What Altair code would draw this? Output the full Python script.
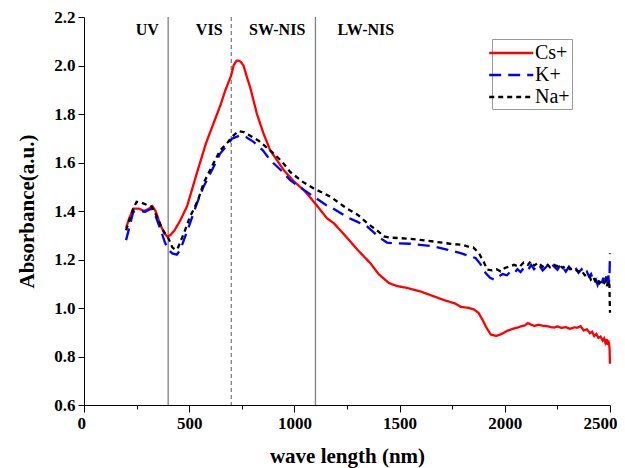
import altair as alt
import pandas as pd

# ---- data ----
series_names = ["Cs+", "K+", "Na+"]
series_colors = ["#ff0000", "#0000ff", "#000000"]
series_dashes = [[1, 0], [12, 7], [5, 4]]

nm_cs = [200,215,235,260,285,310,325,340,360,380,395,410,430,457,490,536,580,615,650,671,700,711,725,734,745,758,775,790,822,853,885,950,1000,1045,1100,1155,1187,1250,1300,1361,1400,1449,1490,1536,1600,1663,1720,1760,1790,1830,1853,1875,1893,1912,1933,1960,1980,2010,2040,2060,2080,2095,2110,2123,2140,2160,2180,2200,2220,2234,2250,2270,2290,2310,2330,2346,2360,2375,2390,2405,2415,2425,2435,2445,2455,2465,2472,2478,2484,2488,2492,2496,2498,2500]
val_cs = [1.33,1.37,1.41,1.41,1.40,1.41,1.42,1.40,1.35,1.31,1.295,1.30,1.32,1.36,1.42,1.555,1.68,1.76,1.84,1.896,1.96,2.00,2.02,2.02,2.015,2.00,1.95,1.91,1.80,1.72,1.65,1.568,1.52,1.486,1.43,1.37,1.35,1.29,1.24,1.185,1.14,1.103,1.09,1.083,1.068,1.048,1.03,1.02,1.005,1.0,0.994,0.98,0.953,0.92,0.891,0.885,0.891,0.905,0.915,0.919,0.925,0.928,0.938,0.932,0.926,0.931,0.927,0.925,0.921,0.919,0.924,0.918,0.921,0.914,0.92,0.919,0.925,0.908,0.912,0.896,0.902,0.884,0.893,0.877,0.882,0.866,0.875,0.857,0.872,0.848,0.866,0.85,0.83,0.77]

nm_k = [200,212,234,260,290,322,340,365,385,401,420,441,458,472,500,536,568,584,615,647,680,703,742,770,806,850,885,940,980,1040,1092,1150,1175,1250,1300,1346,1380,1409,1440,1473,1550,1663,1730,1790,1830,1861,1885,1909,1930,1949,1970,1990,2010,2028,2045,2060,2075,2090,2110,2125,2139,2160,2180,2200,2215,2230,2250,2266,2290,2305,2320,2335,2350,2365,2377,2390,2400,2410,2420,2430,2441,2450,2460,2468,2475,2482,2488,2492,2495,2498,2500]
val_k = [1.28,1.32,1.397,1.40,1.397,1.41,1.38,1.32,1.27,1.24,1.225,1.22,1.24,1.274,1.34,1.43,1.50,1.527,1.58,1.637,1.67,1.698,1.712,1.705,1.685,1.65,1.61,1.565,1.527,1.49,1.459,1.425,1.415,1.375,1.355,1.336,1.31,1.288,1.27,1.267,1.265,1.254,1.24,1.226,1.215,1.206,1.18,1.144,1.125,1.117,1.13,1.14,1.135,1.151,1.145,1.16,1.148,1.165,1.155,1.178,1.16,1.18,1.155,1.172,1.16,1.175,1.158,1.18,1.15,1.17,1.155,1.168,1.145,1.16,1.14,1.15,1.13,1.14,1.115,1.125,1.096,1.12,1.10,1.125,1.095,1.13,1.105,1.14,1.10,1.15,1.226]

nm_na = [200,215,234,250,270,300,322,345,370,390,401,420,433,445,457,480,504,540,568,600,647,680,703,734,760,790,830,885,940,980,1040,1092,1171,1250,1300,1346,1400,1425,1460,1504,1580,1663,1740,1800,1822,1850,1877,1900,1917,1940,1960,1980,2000,2020,2044,2070,2090,2110,2123,2140,2160,2180,2200,2215,2234,2250,2260,2275,2290,2310,2330,2350,2365,2380,2400,2409,2420,2430,2440,2450,2460,2472,2480,2485,2490,2494,2497,2500]
val_na = [1.32,1.36,1.41,1.438,1.435,1.425,1.418,1.38,1.33,1.30,1.288,1.25,1.24,1.245,1.27,1.32,1.377,1.44,1.514,1.57,1.65,1.68,1.705,1.73,1.725,1.71,1.69,1.65,1.605,1.561,1.52,1.493,1.459,1.41,1.385,1.35,1.315,1.295,1.29,1.288,1.283,1.274,1.265,1.26,1.254,1.25,1.226,1.19,1.158,1.155,1.16,1.151,1.165,1.17,1.178,1.17,1.188,1.178,1.192,1.175,1.187,1.17,1.182,1.168,1.178,1.172,1.18,1.165,1.175,1.16,1.162,1.15,1.155,1.135,1.138,1.117,1.128,1.11,1.12,1.102,1.112,1.103,1.115,1.09,1.108,1.095,1.10,0.98]

region_bounds_solid = [400, 1100]
region_bounds_dashed = [700]
region_labels = ["UV", "VIS", "SW-NIS", "LW-NIS"]
region_label_x = [301, 595, 918, 1340]
region_label_y = [2.146, 2.146, 2.146, 2.146]

x_ticks = [0, 250, 500, 750, 1000, 1250, 1500, 1750, 2000, 2250, 2500]
y_ticks = [0.6, 0.7, 0.8, 0.9, 1.0, 1.1, 1.2, 1.3, 1.4, 1.5, 1.6, 1.7, 1.8, 1.9, 2.0, 2.1, 2.2]

# ---- tables ----
frames = []
for name, xs, ys in [("Cs+", nm_cs, val_cs), ("K+", nm_k, val_k), ("Na+", nm_na, val_na)]:
    frames.append(pd.DataFrame({"nm": xs, "value": ys, "series": name}))
df = pd.concat(frames, ignore_index=True)

df_solid = pd.DataFrame({"nm": region_bounds_solid})
df_dashed = pd.DataFrame({"nm": region_bounds_dashed})
df_labels = pd.DataFrame({"nm": region_label_x, "value": region_label_y, "label": region_labels})

SERIF = "Liberation Serif"

x_scale = alt.Scale(domain=[0, 2500], nice=False, zero=False)
y_scale = alt.Scale(domain=[0.6, 2.2], nice=False, zero=False)

x_axis = alt.Axis(
    values=x_ticks,
    format="d",
    labelExpr="datum.value % 500 == 0 ? datum.label : ''",
    tickSize={"condition": {"test": "datum.value % 500 == 0", "value": 7}, "value": 4},
    title="wave length (nm)",
    grid=False,
    labelFlush=True,
    labelFlushOffset=7,
)
y_axis = alt.Axis(
    values=y_ticks,
    format=".1f",
    labelExpr="round(datum.value * 10) % 2 == 0 ? datum.label : ''",
    tickSize={"condition": {"test": "round(datum.value * 10) % 2 == 0", "value": 6}, "value": 3.5},
    title="Absorbance(a.u.)",
    grid=False,
    labelFlush=False,
)

legend = alt.Legend(
    title=None,
    orient="none",
    legendX=408,
    legendY=22,
    symbolType="M-1.6,0H2.6",
    symbolSize=441,
    symbolStrokeWidth=2.3,
    labelOffset=17,
    labelFont=SERIF,
    labelFontSize=20,
    labelFontWeight="normal",
    labelColor="black",
    padding=2,
    rowPadding=0,
    strokeColor="#999999",
    fillColor="white",
)

lines = alt.Chart(df).mark_line(strokeWidth=2.3).encode(
    x=alt.X("nm:Q", scale=x_scale, axis=x_axis),
    y=alt.Y("value:Q", scale=y_scale, axis=y_axis),
    color=alt.Color("series:N", scale=alt.Scale(domain=series_names, range=series_colors), legend=legend),
    strokeDash=alt.StrokeDash("series:N", scale=alt.Scale(domain=series_names, range=series_dashes), legend=legend),
    order=alt.Order("nm:Q"),
)

rules_solid = alt.Chart(df_solid).mark_rule(color="#808080", strokeWidth=1.3).encode(
    x=alt.X("nm:Q", scale=x_scale)
)
rules_dashed = alt.Chart(df_dashed).mark_rule(color="#808080", strokeWidth=1.3, strokeDash=[4, 3]).encode(
    x=alt.X("nm:Q", scale=x_scale)
)
labels = alt.Chart(df_labels).mark_text(
    font=SERIF, fontSize=16, fontWeight="bold", color="black", baseline="middle", align="center"
).encode(
    x=alt.X("nm:Q", scale=x_scale),
    y=alt.Y("value:Q", scale=y_scale),
    text="label:N",
)

chart = alt.layer(rules_solid, rules_dashed, lines, labels).properties(
    width=526,
    height=388,
    padding={"left": 76, "top": 9, "right": 7, "bottom": 63},
    autosize=alt.AutoSizeParams(type="none"),
).configure_view(
    stroke=None
).configure_axis(
    labelFont=SERIF,
    labelFontSize=17,
    labelFontWeight="bold",
    labelColor="black",
    labelPadding=3,
    titleFont=SERIF,
    titleFontSize=21,
    titleFontWeight="bold",
    titleColor="black",
    domainColor="black",
    domainWidth=1,
    tickColor="black",
    tickWidth=1,
    labelOverlap=False,
).configure_axisX(
    titlePadding=14,
).configure_axisY(
    titlePadding=16,
)

chart.save("out.html", embed_options={"renderer": "svg", "actions": False})
